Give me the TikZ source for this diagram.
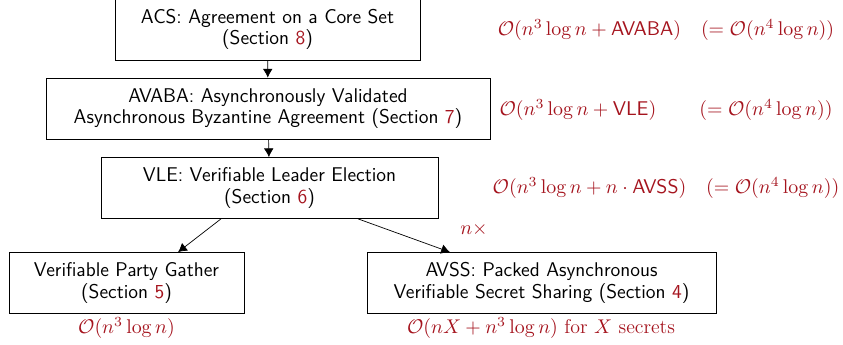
\RequirePackage{fix-cm}
\documentclass[tikz,border=0pt]{standalone}
\usepackage{amsmath}
\usetikzlibrary{arrows.meta}
\definecolor{seccol}{RGB}{165,20,30}
\newcommand{\secref}[1]{\textcolor{seccol}{#1}}

\begin{document}
\begin{tikzpicture}[box/.style={draw,font=\fontsize{11.3}{12.2}\selectfont\sffamily,align=center,minimum height=1.22cm},
  cost/.style={text=seccol,font=\fontsize{11.3}{12.2}\selectfont},
  >={Latex[length=5pt,width=5.5pt]}]
\useasboundingbox (0,0) rectangle (16.86,-6.9);

\node[box,minimum width=6.1cm] (acs) at (5.35,-0.59) {ACS: Agreement on a Core Set\\(Section \secref{8})};
\node[box,minimum width=8.88cm] (avaba) at (5.36,-2.17) {AVABA: Asynchronously Validated\\Asynchronous Byzantine Agreement (Section \secref{7})};
\node[box,minimum width=6.74cm] (vle) at (5.39,-3.76) {VLE: Verifiable Leader Election\\(Section \secref{6})};
\node[box,minimum width=4.7cm] (vpg) at (2.53,-5.66) {Verifiable Party Gather\\(Section \secref{5})};
\node[box,minimum width=6.98cm] (avss) at (10.83,-5.66) {AVSS: Packed Asynchronous\\Verifiable Secret Sharing (Section \secref{4})};

% costs
\node[cost] (cacs) at (13.32,-0.6) {$\mathcal{O}(n^3\log n+\mathsf{AVABA})\quad(=\mathcal{O}(n^4\log n))$};
\node[cost] (cavaba) at (13.32,-2.2) {$\mathcal{O}(n^3\log n+\mathsf{VLE})\qquad\,(=\mathcal{O}(n^4\log n))$};
\node[cost] (cvle) at (13.32,-3.76) {$\mathcal{O}(n^3\log n+n\cdot\mathsf{AVSS})\quad(=\mathcal{O}(n^4\log n))$};
\node[cost] (cvpg) at (2.53,-6.56) {$\mathcal{O}(n^3\log n)$};
\node[cost] (cavss) at (10.82,-6.56) {$\mathcal{O}(nX+n^3\log n)$ for $X$ secrets};
\node[cost] (times) at (9.48,-4.6) {$n\times$};

\draw[->] (acs) -- (avaba);
\draw[->] (avaba) -- (vle);
\draw[->] ([xshift=-0.97cm]vle.south) -- ([xshift=1.03cm]vpg.north);
\draw[->] ([xshift=1.77cm]vle.south) -- ([xshift=-1.83cm]avss.north);
\end{tikzpicture}
\end{document}
